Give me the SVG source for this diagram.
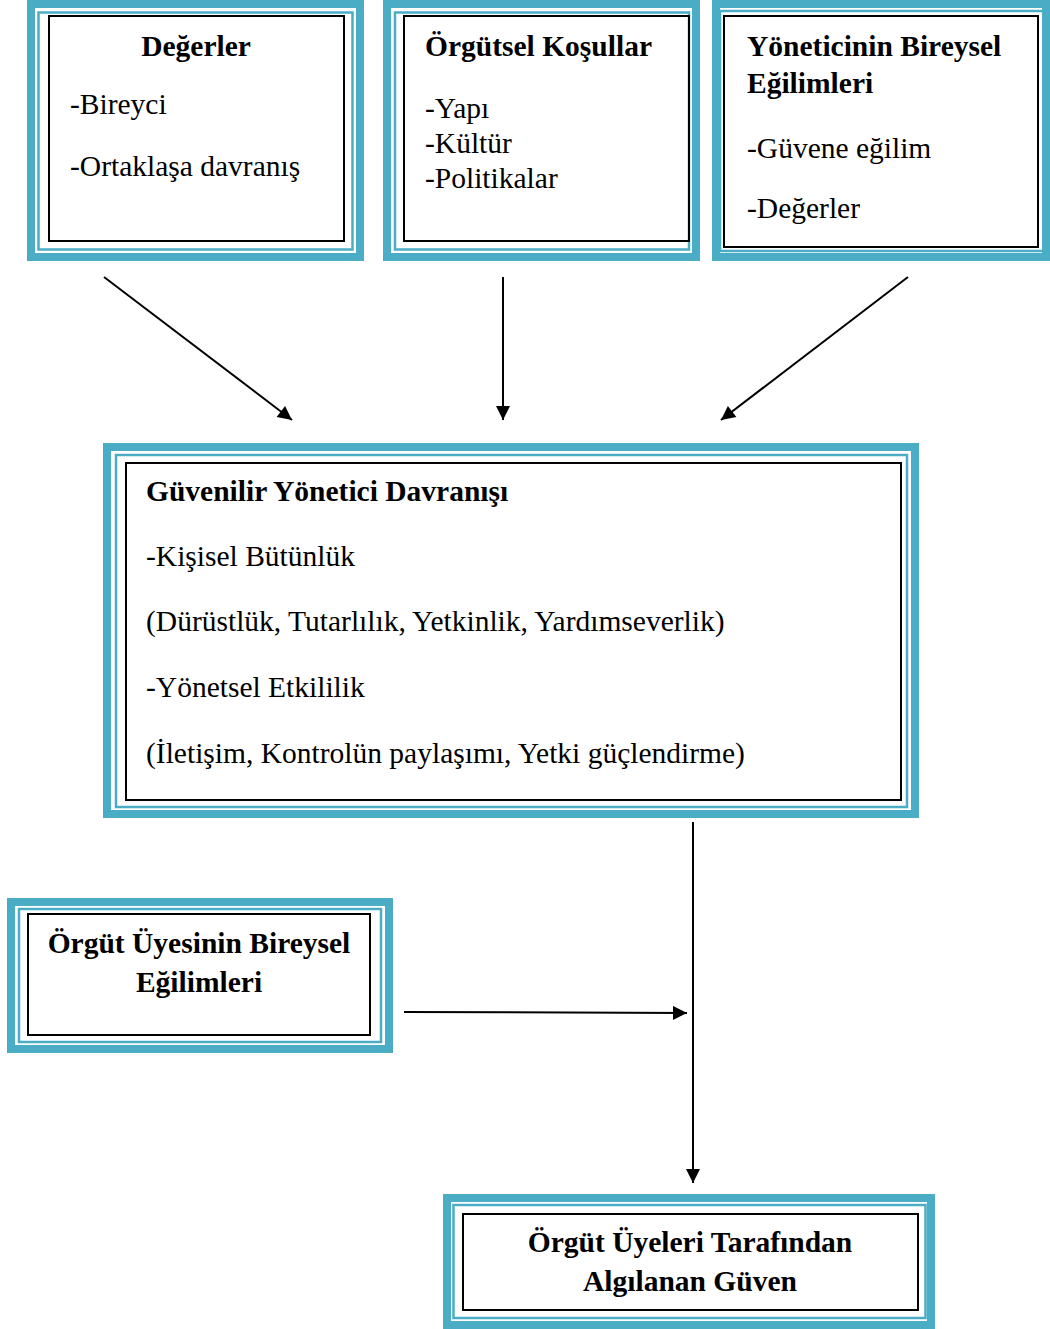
<svg xmlns="http://www.w3.org/2000/svg" width="1050" height="1329" viewBox="0 0 1050 1329">
<defs>
<marker id="ah" viewBox="0 0 10 10" refX="10" refY="5" markerWidth="16" markerHeight="14" markerUnits="userSpaceOnUse" orient="auto"><path d="M0,0 L10,5 L0,10 z" fill="#000"/></marker>
<style>
.o{fill:#fff;stroke:#4BACC6;stroke-width:8}
.m{fill:none;stroke:#4BACC6;stroke-width:2.5}
.b{fill:none;stroke:#000;stroke-width:2}
text{font-family:"Liberation Serif","Times New Roman",serif;font-size:29.5px;fill:#000}
.h{font-weight:bold}
.c{text-anchor:middle}
.e{stroke:#000;stroke-width:2;fill:none;marker-end:url(#ah)}
</style>
</defs>
<g id="n1">
<rect class="o" x="31" y="4" width="329" height="253"/>
<rect class="m" x="38.5" y="12.5" width="314" height="237"/>
<rect class="b" x="49" y="16" width="295" height="225"/>
<text class="h c" x="196" y="56">Değerler</text>
<text x="70" y="114">-Bireyci</text>
<text x="70" y="176">-Ortaklaşa davranış</text>
</g>
<g id="n2">
<rect class="o" x="387" y="4" width="309" height="253"/>
<rect class="m" x="395" y="12.5" width="294" height="237"/>
<rect class="b" x="404" y="16" width="285" height="225"/>
<text class="h" x="425" y="56">Örgütsel Koşullar</text>
<text x="425" y="118">-Yapı</text>
<text x="425" y="153">-Kültür</text>
<text x="425" y="188">-Politikalar</text>
</g>
<g id="n3">
<rect class="o" x="716" y="4" width="330" height="253"/>
<rect class="m" x="720" y="11" width="324" height="240"/>
<rect class="b" x="724" y="16" width="314" height="231"/>
<text class="h" x="747" y="56">Yöneticinin Bireysel</text>
<text class="h" x="747" y="93">Eğilimleri</text>
<text x="747" y="158">-Güvene eğilim</text>
<text x="747" y="218">-Değerler</text>
</g>
<g id="n4">
<rect class="o" x="107" y="447" width="808" height="367"/>
<rect class="m" x="116" y="455" width="791" height="352"/>
<rect class="b" x="126" y="463" width="775" height="337"/>
<text class="h" x="146" y="501">Güvenilir Yönetici Davranışı</text>
<text x="146" y="566">-Kişisel Bütünlük</text>
<text x="146" y="631">(Dürüstlük, Tutarlılık, Yetkinlik, Yardımseverlik)</text>
<text x="146" y="697">-Yönetsel Etkililik</text>
<text x="146" y="763">(İletişim, Kontrolün paylaşımı, Yetki güçlendirme)</text>
</g>
<g id="n5">
<rect class="o" x="11" y="902" width="378" height="147"/>
<rect class="m" x="19" y="909" width="362" height="133"/>
<rect class="b" x="28" y="914" width="342" height="121"/>
<text class="h c" x="199" y="953">Örgüt Üyesinin Bireysel</text>
<text class="h c" x="199" y="992">Eğilimleri</text>
</g>
<g id="n6">
<rect class="o" x="447" y="1198" width="484" height="127"/>
<rect class="m" x="453.5" y="1205" width="472" height="113"/>
<rect class="b" x="463" y="1214" width="455" height="96"/>
<text class="h c" x="690" y="1252">Örgüt Üyeleri Tarafından</text>
<text class="h c" x="690" y="1291">Algılanan Güven</text>
</g>
<g id="edges">
<line class="e" x1="104" y1="277" x2="292" y2="420"/>
<line class="e" x1="503" y1="277" x2="503" y2="420"/>
<line class="e" x1="908" y1="277" x2="721" y2="420"/>
<line class="e" x1="693" y1="822" x2="693" y2="1183"/>
<line class="e" x1="404" y1="1012" x2="687" y2="1013"/>
</g>
</svg>
